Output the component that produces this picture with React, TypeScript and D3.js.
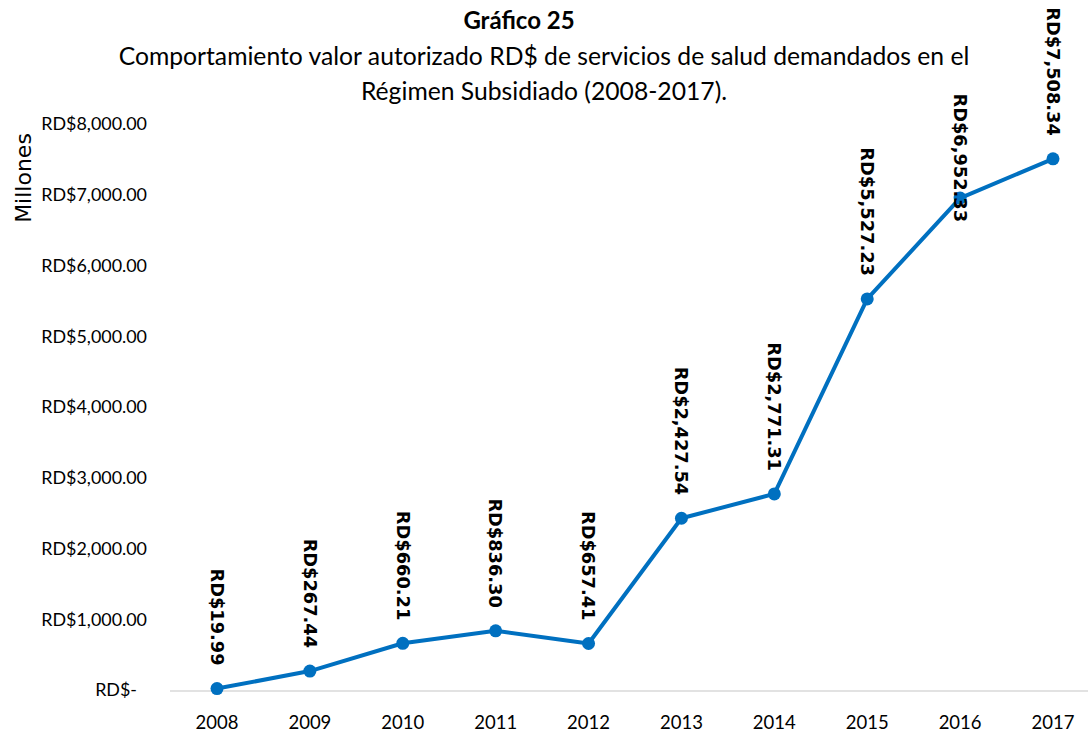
import React from "react";
import * as d3 from "d3";

const years = ["2008","2009","2010","2011","2012","2013","2014","2015","2016","2017"];
const values = [19.99, 267.44, 660.21, 836.30, 657.41, 2427.54, 2771.31, 5527.23, 6952.33, 7508.34];
const yTicks = [0, 1000, 2000, 3000, 4000, 5000, 6000, 7000, 8000];
const titleText = "Gráfico 25";
const subtitleLines = [
  "Comportamiento valor autorizado RD$ de servicios de salud demandados en el",
  "Régimen Subsidiado (2008-2017).",
];
const yAxisTitle = "Millones";

const W = 1088, H = 736;
const FONT = "Lato, 'Open Sans', sans-serif";
const LABEL_FONT = "'DejaVu Sans', sans-serif";
const COLOR = "#0070C0";

const fmtMoney = (v: number) => "RD$" + d3.format(",.2f")(v);
const fmtTick = (v: number) => (v === 0 ? "RD$-" : "RD$" + d3.format(",.2f")(v));

export default function App() {
  const x = d3.scalePoint<string>().domain(years).range([217, 1053]);
  const y = d3.scaleLinear().domain([0, 8000]).range([690, 124]);
  const line = d3.line<number>()
    .x((_, i) => x(years[i]) as number)
    .y((d) => y(d));

  return (
    <svg width={W} height={H} style={{ position: "absolute", left: 0, top: 0, background: "#fff" }}>
      <text x={519} y={29} textAnchor="middle" fontFamily={FONT} fontWeight="bold" fontSize={24} fill="#000">{titleText}</text>
      {subtitleLines.map((t, i) => (
        <text key={i} x={544} y={65 + i * 35} textAnchor="middle" fontFamily={FONT} fontSize={24.7} fill="#000">{t}</text>
      ))}
      <text transform={`translate(31,178) rotate(-90)`} textAnchor="middle" fontFamily={LABEL_FONT} fontSize={22} fill="#000">{yAxisTitle}</text>
      {yTicks.map((t) => (
        <text key={t} x={t === 0 ? 137 : 147} y={y(t)} dy="0.35em" textAnchor="end" fontFamily={FONT} fontSize={17.9} fill="#000">{fmtTick(t)}</text>
      ))}
      <line x1={170} x2={1088} y1={y(0) + 1} y2={y(0) + 1} stroke="#d9d9d9" strokeWidth={1.5} />
      {years.map((yr) => (
        <text key={yr} x={x(yr)} y={729} textAnchor="middle" fontFamily={FONT} fontSize={18.5} fill="#000">{yr}</text>
      ))}
      <path d={line(values) || ""} fill="none" stroke={COLOR} strokeWidth={4} strokeLinejoin="round" />
      {values.map((v, i) => (
        <circle key={i} cx={x(years[i])} cy={y(v)} r={6.5} fill={COLOR} />
      ))}
      {values.map((v, i) => (
        <text key={"l" + i}
          transform={`translate(${x(years[i])},${y(v) - 23 + (i === 8 ? 47 : 0)}) rotate(90)`}
          textAnchor="end" dy="0.35em"
          fontFamily={LABEL_FONT} fontWeight="bold" fontSize={17.8} fill="#000">
          {fmtMoney(v)}
        </text>
      ))}
    </svg>
  );
}
